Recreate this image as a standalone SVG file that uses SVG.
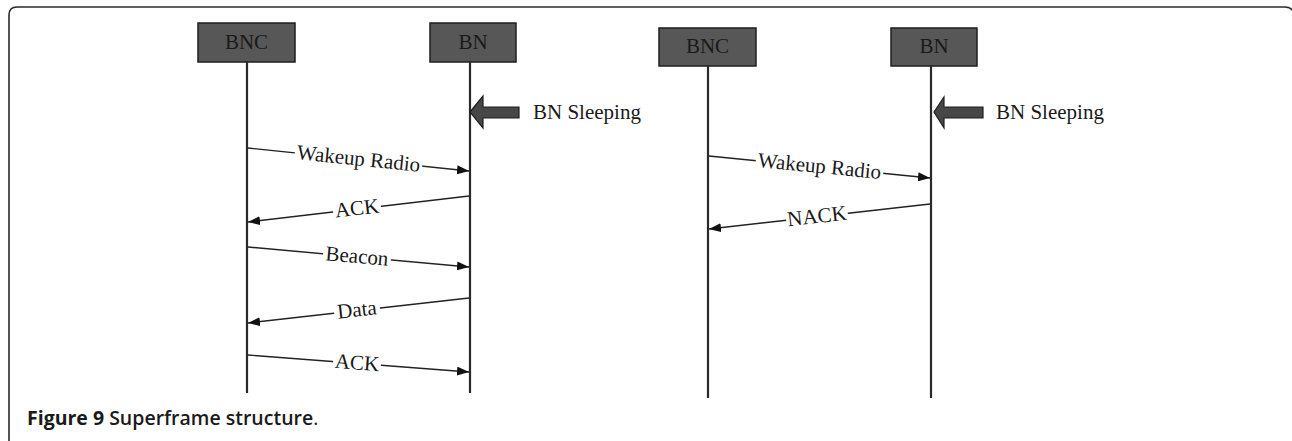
<svg xmlns="http://www.w3.org/2000/svg" width="1292" height="441" viewBox="0 0 1292 441">
<style>
.frame{fill:none;stroke:#2a2a2a;stroke-width:1.6}
.box{fill:#575757;stroke:#1e1e1e;stroke-width:1.5}
.lbl{font-family:"Liberation Serif","Times New Roman",serif;font-size:21px;fill:#1a1a1a}
.life{stroke:#2a2a2a;stroke-width:2.2}
.msg{stroke:#222;stroke-width:1.4;fill:none;marker-end:url(#ah)}
.gap{fill:#fff}
.blk{fill:#474747;stroke:#1e1e1e;stroke-width:1.2}
.cap{font-family:"Open Sans","Liberation Sans",Arial,sans-serif;font-size:19.5px;fill:#1a1a1a}
</style>
<defs>
<marker id="ah" viewBox="0 0 12 9" refX="12" refY="4.5" markerWidth="12" markerHeight="9" markerUnits="userSpaceOnUse" orient="auto">
<path d="M0,0 L12,4.5 L0,9 Z" fill="#111"/>
</marker>
</defs>
<rect width="1292" height="441" fill="#fff"/>
<path class="frame" d="M9,450 L9,15 Q9,7 17,7 L1285,7 Q1291,7 1294,12"/>

<g id="left-bnc">
<rect class="box" x="198" y="23" width="97" height="39"/>
<text class="lbl" x="246.5" y="49" text-anchor="middle">BNC</text>
<line class="life" x1="247" y1="62" x2="247" y2="393"/>
</g>
<g id="left-bn">
<rect class="box" x="430" y="23" width="86" height="39"/>
<text class="lbl" x="473" y="49" text-anchor="middle">BN</text>
<line class="life" x1="470" y1="62" x2="470" y2="393"/>
</g>
<g id="left-sleep">
<polygon class="blk" points="470,112 483,96 483,107 519,107 519,118 483,118 483,128"/>
<text class="lbl" x="533" y="119">BN Sleeping</text>
</g>

<g id="right-bnc">
<rect class="box" x="659" y="28" width="97" height="38"/>
<text class="lbl" x="707.5" y="53" text-anchor="middle">BNC</text>
<line class="life" x1="708" y1="66" x2="708" y2="398"/>
</g>
<g id="right-bn">
<rect class="box" x="891" y="28" width="86" height="38"/>
<text class="lbl" x="934" y="53" text-anchor="middle">BN</text>
<line class="life" x1="931" y1="66" x2="931" y2="398"/>
</g>
<g id="right-sleep">
<polygon class="blk" points="934,112 944,97 944,107 983,107 983,118 944,118 944,128"/>
<text class="lbl" x="996" y="119">BN Sleeping</text>
</g>

<g id="connectors">
<line class="msg" x1="248" y1="148" x2="469" y2="171"/>
<g transform="translate(358.5,159.5) rotate(5.9)"><rect class="gap" x="-64" y="-4" width="128" height="8"/><text class="lbl" x="0" y="6" text-anchor="middle">Wakeup Radio</text></g>

<line class="msg" x1="469" y1="196" x2="248" y2="222"/>
<g transform="translate(357,209) rotate(-6.6)"><rect class="gap" x="-24" y="-4" width="48" height="8"/><text class="lbl" x="0" y="6" text-anchor="middle">ACK</text></g>

<line class="msg" x1="248" y1="247" x2="469" y2="267"/>
<g transform="translate(357,257) rotate(5.1)"><rect class="gap" x="-34" y="-4" width="68" height="8"/><text class="lbl" x="0" y="6" text-anchor="middle">Beacon</text></g>

<line class="msg" x1="469" y1="298" x2="248" y2="323"/>
<g transform="translate(357,310.5) rotate(-6.4)"><rect class="gap" x="-23" y="-4" width="46" height="8"/><text class="lbl" x="0" y="6" text-anchor="middle">Data</text></g>

<line class="msg" x1="248" y1="355" x2="469" y2="372"/>
<g transform="translate(357,363.5) rotate(4.4)"><rect class="gap" x="-24" y="-4" width="48" height="8"/><text class="lbl" x="0" y="6" text-anchor="middle">ACK</text></g>

<line class="msg" x1="709" y1="156" x2="930" y2="178"/>
<g transform="translate(819.5,167) rotate(5.6)"><rect class="gap" x="-64" y="-4" width="128" height="8"/><text class="lbl" x="0" y="6" text-anchor="middle">Wakeup Radio</text></g>

<line class="msg" x1="930" y1="204" x2="709" y2="229"/>
<g transform="translate(817,217) rotate(-6.4)"><rect class="gap" x="-31" y="-4" width="62" height="8"/><text class="lbl" x="0" y="6" text-anchor="middle">NACK</text></g>
</g>

<text class="cap" x="27" y="425"><tspan font-weight="bold">Figure 9</tspan><tspan font-weight="600"> Superframe structure</tspan>.</text>
</svg>
